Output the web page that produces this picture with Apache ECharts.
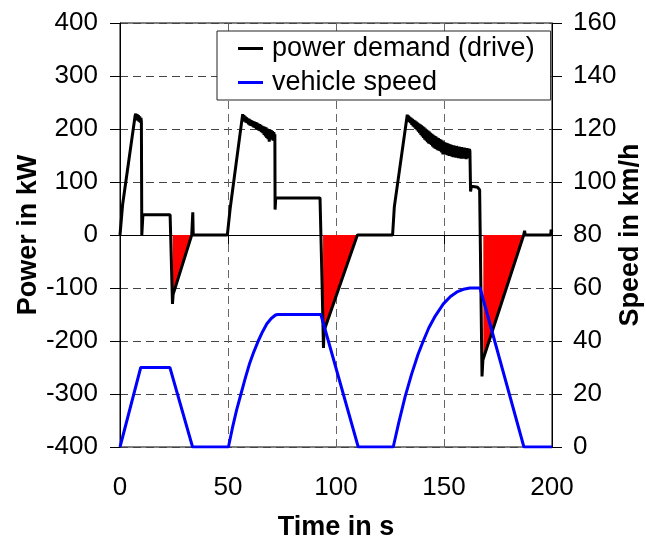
<!DOCTYPE html>
<html>
<head>
<meta charset="utf-8">
<script src="https://cdn.jsdelivr.net/npm/echarts@6/dist/echarts.min.js"></script>
<style>
html,body{margin:0;padding:0;background:#fff;}
#chart{width:646px;height:538px;}
</style>
</head>
<body>
<div id="chart"></div>
<script>
// ---- data (time in s) ----
const xTicks = [0, 50, 100, 150, 200];
const powerTicks = [-400, -300, -200, -100, 0, 100, 200, 300, 400];
const speedTicks = [0, 20, 40, 60, 80, 100, 120, 140, 160];

// power demand (drive) in kW : [time, power]
const powerDemand = [
  [0,0],[0.2,0],[1.2,57],[7,225],[7.3,229],[7.6,219],[7.9,228],[8.2,216],[8.5,226],[8.8,214],[9.1,224],[9.4,212],[9.7,221],[9.9,214],[10.1,0],[10.5,0],[10.6,38],
  [23.2,38],[24.3,-130],[24.6,-112],[33.2,0],[33.5,0],[33.7,43],[33.9,0],
  [49.7,0],[51,50],[56.8,228],[57.1,218],[57.4,226],[57.7,214],[58,224],[58.3,212],[58.6,222],[58.9,211],[59.2,220],[59.5,209],[59.8,219],
  [60.1,207],[60.4,217],[60.7,206],[61,216],[61.3,205],[61.6,215],[61.9,203],[62.2,214],[62.5,202],[62.8,213],[63.1,200],[63.4,212],
  [63.7,199],[64,210],[64.3,197],[64.6,209],[64.9,196],[65.2,208],[65.5,194],[65.8,206],[66.1,192],[66.4,205],[66.7,189],[67,204],
  [67.3,186],[67.6,203],[67.9,183],[68.2,201],[68.5,181],[68.8,200],[69.1,176],[69.4,199],[69.7,180],[70,198],[70.3,182],[70.6,196],
  [70.9,178],[71.2,194],[71.5,183],[71.7,190],[71.8,48],[72.1,70],
  [92.6,70],[93.6,-100],[94.2,-213],[94.5,-180],[109.9,0],
  [126.2,0],[127,53],[133,227],[133.3,216],[133.6,225],[133.9,213],[134.2,223],[134.5,211],[134.8,221],[135.1,208],[135.4,219],[135.7,205],
  [136,217],[136.3,203],[136.6,216],[136.9,200],[137.2,214],[137.5,198],[137.8,212],[138.1,195],[138.4,210],[138.7,192],[139,209],
  [139.3,189],[139.6,207],[139.9,186],[140.2,205],[140.5,183],[140.8,203],[141.1,180],[141.4,201],[141.7,178],[142,199],[142.3,175],
  [142.6,197],[142.9,173],[143.2,195],[143.5,172],[143.8,193],[144.1,170],[144.4,191],[144.7,167],[145,189],[145.3,165],[145.6,187],
  [145.9,163],[146.2,186],[146.5,162],[146.8,184],[147.1,160],[147.4,183],[147.7,159],[148,181],[148.3,158],[148.6,180],[148.9,156],
  [149.2,178],[149.5,152],[149.8,176],[150.1,155],[150.4,175],[150.7,153],[151,174],[151.3,151],[151.6,173],[151.9,150],[152.2,172],
  [152.5,149],[152.8,171],[153.1,150],[153.4,170],[153.7,148],[154,169],[154.3,147],[154.6,169],[154.9,148],[155.2,168],[155.5,146],
  [155.8,168],[156.1,147],[156.4,167],[156.7,145],[157,167],[157.3,146],[157.6,166],[157.9,144],[158.2,166],[158.5,146],[158.8,165],
  [159.1,144],[159.4,165],[159.7,145],[160,164],[160.3,143],[160.6,164],[160.9,145],[161.2,163],[161.5,146],[161.8,162],[162,158],
  [162.3,82],[162.7,92],[165.6,90],[166.5,85],[167.6,-267],[168,-236],[186.9,0],[187.3,8],[187.6,0],
  [199.4,0],[199.6,10],[200,6]
];

// regenerative braking areas (kW)
const brake1 = [[24.4,0],[24.4,-110],[33.2,0]];
const brake2 = [[94.0,0],[94.0,-180],[109.7,0]];
const brake3 = [[168.2,0],[168.2,-236],[186.7,0]];

// vehicle speed in km/h : [time, speed]
const vehicleSpeed = [
  [0,0],[9.6,30],[23.1,30],[33.6,0],
  [50.2,0],[52,7],[54,14],[56,20],[58,26],[60,31.5],[62,36],[64,40],[66,43.5],[68,46.5],[70,48.5],[72,49.8],[73,50],[93,50],[110.3,0],
  [126.5,0],[129,9],[132,19],[135,27.5],[138,35],[140.4,40],[143,45],[146,49.5],[149.7,54],[153,56.8],[156,58.5],[159,59.5],[162,60],
  [166.7,60],[187,0],[200,0]
];

const FONT = '"Liberation Sans", Arial, sans-serif';
const chart = echarts.init(document.getElementById('chart'), null, {renderer:'canvas'});

function brakeSeries(d){
  return {
    type:'line', data:d, yAxisIndex:0, symbol:'none', silent:true,
    lineStyle:{width:0, color:'#ff0000'},
    areaStyle:{color:'#ff0000', opacity:1, origin:0},
    z:1
  };
}

chart.setOption({
  animation:false,
  backgroundColor:'#ffffff',
  grid:{left:120, right:94, top:23, bottom:91, containLabel:false, outerBoundsMode:'none',
        show:true, borderColor:'#000', borderWidth:1, backgroundColor:'transparent'},
  legend:{
    data:[
      {name:'power demand (drive)', icon:'rect'},
      {name:'vehicle speed', icon:'rect'}
    ],
    orient:'vertical', left:217, top:31,
    itemWidth:25, itemHeight:3, itemGap:7,
    padding:[4,16,4,21],
    backgroundColor:'#fff', borderColor:'#222', borderWidth:1,
    textStyle:{fontFamily:FONT, fontSize:27, color:'#000', lineHeight:27, padding:[0,0,0,4]}
  },
  xAxis:{
    type:'value', min:xTicks[0], max:xTicks[xTicks.length-1], interval:50,
    name:'Time in s', nameLocation:'middle', nameGap:67, nameMoveOverlap:false,
    nameTextStyle:{fontFamily:FONT, fontSize:27, fontWeight:'bold', color:'#000'},
    axisLine:{lineStyle:{color:'#000', width:1}},
    axisTick:{show:true, inside:false, length:9, lineStyle:{color:'#000'}},
    axisLabel:{fontFamily:FONT, fontSize:26, color:'#000', margin:28},
    splitLine:{show:true, lineStyle:{color:'#666', type:[8,5], width:1}}
  },
  yAxis:[
    {
      type:'value', min:powerTicks[0], max:powerTicks[powerTicks.length-1], interval:100, position:'left',
      name:'Power in kW', nameLocation:'middle', nameRotate:90, nameGap:78, nameMoveOverlap:false,
      nameTextStyle:{fontFamily:FONT, fontSize:27, fontWeight:'bold', color:'#000'},
      axisLine:{show:true, lineStyle:{color:'#000', width:1}},
      axisTick:{show:true, inside:false, length:10, lineStyle:{color:'#000'}},
      axisLabel:{fontFamily:FONT, fontSize:26, color:'#000', margin:22},
      splitLine:{show:true, lineStyle:{color:'#444', type:[8,5], width:1}}
    },
    {
      type:'value', min:speedTicks[0], max:speedTicks[speedTicks.length-1], interval:20, position:'right',
      name:'Speed in km/h', nameLocation:'middle', nameRotate:90, nameGap:65, nameMoveOverlap:false,
      nameTextStyle:{fontFamily:FONT, fontSize:27, fontWeight:'bold', color:'#000'},
      axisLine:{show:true, lineStyle:{color:'#000', width:1}},
      axisTick:{show:true, inside:false, length:10, lineStyle:{color:'#000'}},
      axisLabel:{fontFamily:FONT, fontSize:26, color:'#000', margin:21},
      splitLine:{show:false}
    }
  ],
  series:[
    brakeSeries(brake1), brakeSeries(brake2), brakeSeries(brake3),
    {
      name:'power demand (drive)', type:'line', data:powerDemand, yAxisIndex:0,
      symbol:'none', lineStyle:{color:'#000', width:3}, itemStyle:{color:'#000'}, z:3
    },
    {
      name:'vehicle speed', type:'line', data:vehicleSpeed, yAxisIndex:1,
      symbol:'none', lineStyle:{color:'#0000ff', width:3}, itemStyle:{color:'#0000ff'}, z:4
    }
  ]
});
</script>
</body>
</html>
